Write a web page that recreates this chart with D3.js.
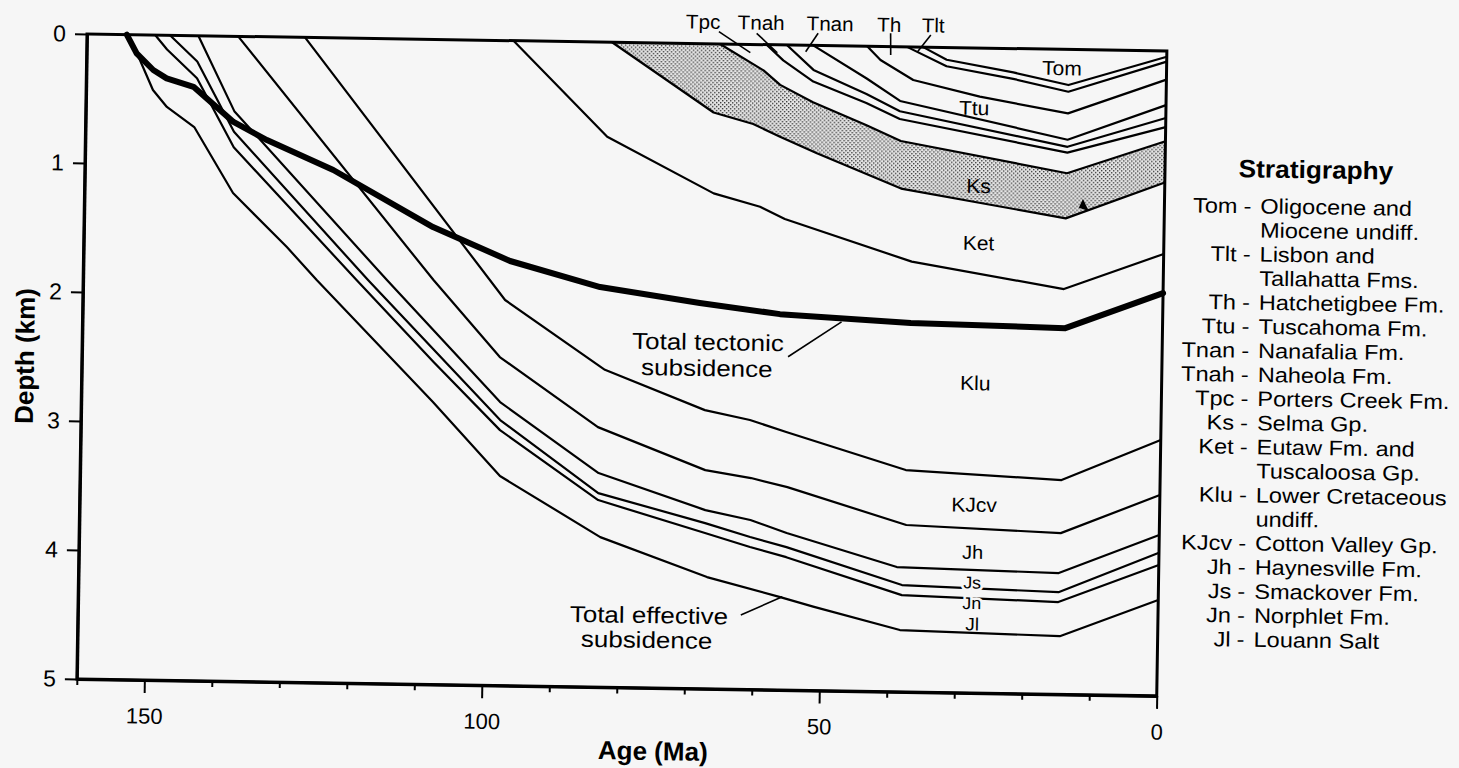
<!DOCTYPE html>
<html>
<head>
<meta charset="utf-8">
<script src="https://cdn.jsdelivr.net/npm/d3@7"></script>
<style>
  html, body { margin: 0; padding: 0; background: #f6f6f6; }
  svg { display: block; }
  text { font-family: "Liberation Sans", Arial, Helvetica, sans-serif; fill: #000; }
</style>
</head>
<body>
<svg id="chart" width="1459" height="768"></svg>
<script>
// Burial history, horizon by horizon: [age (Ma), depth (km)]
const jlBase   = [[154.3,0],[152.1,0.195],[150.1,0.426],[148.0,0.556],[143.9,0.708],[138.0,1.215],[129.9,1.627],[125.4,1.879],[107.9,2.811],[97.8,3.376],[82.8,3.837],[66.9,4.134],[56.0,4.28],[51.1,4.35],[38.2,4.521],[14.5,4.549],[0,4.257]];
const jlTop    = [[149.9,0],[148.1,0.11],[143.6,0.33],[138.0,0.86],[119.5,1.874],[107.9,2.50],[97.9,3.02],[83.2,3.55],[67.3,3.793],[60.6,3.896],[55.2,3.97],[38.0,4.25],[14.8,4.285],[0,3.985]];
const jnTop    = [[147.7,0],[143.6,0.20],[138.0,0.74],[117.8,1.873],[97.9,2.942],[83.2,3.496],[67.3,3.716],[60.6,3.818],[55.2,3.892],[38.0,4.172],[14.8,4.208],[0,3.89]];
const jsTop    = [[143.5,0],[138.0,0.58],[115.0,1.871],[97.95,2.803],[83.2,3.341],[67.3,3.615],[60.6,3.686],[55.2,3.783],[38.8,4.033],[14.8,4.06],[0,3.753]];
const jhTop    = [[137.6,0],[108.1,1.865],[98.1,2.454],[83.4,2.985],[67.4,3.305],[60.6,3.361],[55.2,3.427],[37.5,3.706],[14.6,3.75],[0,3.443]];
const kjcvTop  = [[127.7,0],[97.45,2.011],[82.5,2.54],[67.6,2.84],[60.9,2.911],[55.5,3.0],[37.7,3.28],[14.6,3.339],[0,3.016]];
const kluTop   = [[96.8,0],[82.7,0.733],[66.8,1.159],[59.9,1.257],[56.2,1.349],[37.3,1.664],[14.7,1.858],[0,1.574]];
const ketTop   = [[82.2,0],[67.0,0.532],[61.1,0.617],[57.1,0.712],[51.6,0.836],[39.05,1.099],[14.6,1.31],[0,1.02]];
const ksTop    = [[66.2,0],[59.7,0.20],[57.2,0.31],[52.3,0.44],[44.4,0.61],[39.2,0.73],[14.5,0.96],[0,0.70]];
const tpcTop   = [[59.3,0],[56.8,0.12],[52.3,0.28],[44.4,0.44],[39.4,0.56],[14.5,0.80],[0,0.59]];
const tnahTop  = [[56.3,0],[52.3,0.19],[44.4,0.37],[39.4,0.50],[14.5,0.755],[0,0.52]];
const tnanTop  = [[52.4,0],[44.4,0.25],[39.4,0.42],[14.5,0.70],[0,0.42]];
const ttuTop   = [[44.4,0],[42.4,0.105],[37.5,0.256],[27.6,0.377],[14.5,0.496],[0,0.222]];
const thTop    = [[38.5,0],[32.6,0.145],[22.7,0.235],[14.5,0.328],[0,0.083]];
const tltTop   = [[36.1,0],[32.6,0.095],[22.7,0.185],[14.5,0.276],[0,0.045]];

// Total tectonic subsidence curve
const tectonic = [[154.1,0],[152.6,0.144],[150.1,0.271],[148.1,0.334],[144.1,0.396],[138.1,0.664],[133.1,0.80],[123.2,1.024],[108.3,1.454],[96.8,1.708],[83.4,1.899],[68.6,2.01],[56.7,2.087],[37.3,2.14],[14.4,2.161],[0,1.877]];

// Axis ticks
const ageTicks = [160,150,140,130,120,110,100,90,80,70,60,50,40,30,20,10,0];
const ageLabels = [150,100,50,0];
const depthTicks = [0,1,2,3,4,5];

// Unit names inside the section
const unitNames = ["Tom","Ttu","Ks","Ket","Klu","KJcv","Jh","Js","Jn","Jl"];
const topNames = ["Tpc","Tnah","Tnan","Th","Tlt"];

// Stratigraphy key
const keyCodes = ["Tom","","Tlt","","Th","Ttu","Tnan","Tnah","Tpc","Ks","Ket","","Klu","","KJcv","Jh","Js","Jn","Jl"];
const keyNames = ["Oligocene and","Miocene undiff.","Lisbon and","Tallahatta Fms.","Hatchetigbee Fm.","Tuscahoma Fm.","Nanafalia Fm.","Naheola Fm.","Porters Creek Fm.","Selma Gp.","Eutaw Fm. and","Tuscaloosa Gp.","Lower Cretaceous","undiff.","Cotton Valley Gp.","Haynesville Fm.","Smackover Fm.","Norphlet Fm.","Louann Salt"];

// ---- layout ----
const W = 1080, H = 645;
const svg = d3.select("#chart");
svg.append("rect").attr("width", 1459).attr("height", 768).attr("fill", "#f6f6f6");

const defs = svg.append("defs");
const pat = defs.append("pattern").attr("id", "stipple")
  .attr("width", 4).attr("height", 4).attr("patternUnits", "userSpaceOnUse");
pat.append("rect").attr("width", 4).attr("height", 4).attr("fill", "#e6e6e6");
pat.append("rect").attr("x", 0).attr("y", 0).attr("width", 1.4).attr("height", 1.4).attr("fill", "#3a3a3a");
pat.append("rect").attr("x", 2).attr("y", 2).attr("width", 1.4).attr("height", 1.4).attr("fill", "#3a3a3a");

// whole figure sits slightly tilted
const g = svg.append("g").attr("transform", "translate(87,34) rotate(0.9)");

const x = d3.scaleLinear().domain([160, 0]).range([0, W]);
const y = d3.scaleLinear().domain([0, 5]).range([0, H]);
const line = d3.line().x(d => x(d[0])).y(d => y(d[1]));

// text placed at (px, py), optionally widened horizontally
function label(px, py, str, size, anchor, sx) {
  return g.append("text")
    .attr("transform", `translate(${px},${py}) scale(${sx || 1},1)`)
    .attr("text-anchor", anchor || "middle")
    .attr("font-size", size)
    .text(str);
}

// Selma Gp. stippled band
g.append("path")
  .attr("d", line(ketTop.concat(ksTop.slice().reverse())) + "Z")
  .attr("fill", "url(#stipple)").attr("stroke", "none");

// horizon lines
const horizons = [jlBase, jlTop, jnTop, jsTop, jhTop, kjcvTop, kluTop, ketTop, ksTop, tpcTop, tnahTop, tnanTop, ttuTop, thTop, tltTop];
g.selectAll("path.horizon").data(horizons).enter().append("path")
  .attr("class", "horizon")
  .attr("d", line)
  .attr("fill", "none").attr("stroke", "#000").attr("stroke-width", 2.2)
  .attr("stroke-linejoin", "round");

// tectonic subsidence
g.append("path").attr("d", line(tectonic))
  .attr("fill", "none").attr("stroke", "#000").attr("stroke-width", 6)
  .attr("stroke-linejoin", "round").attr("stroke-linecap", "round");

// frame
g.append("rect").attr("x", 0).attr("y", 0).attr("width", W).attr("height", H)
  .attr("fill", "none").attr("stroke", "#000").attr("stroke-width", 3);

// y axis
const yAxis = d3.axisLeft(y).tickValues(depthTicks).tickSize(12).tickSizeOuter(0).tickPadding(9).tickFormat(d3.format("d"));
const ya = g.append("g").call(yAxis);
ya.select(".domain").attr("stroke-width", 3);
ya.selectAll(".tick line").attr("stroke-width", 2);
ya.selectAll(".tick text").attr("font-family", "'Liberation Sans Narrow', 'Liberation Sans', sans-serif").attr("font-size", 23);

// x axis
const xAxis = d3.axisBottom(x).tickValues(ageTicks).tickSize(6).tickSizeOuter(0)
  .tickFormat(d => ageLabels.includes(d) ? d : "");
const xa = g.append("g").attr("transform", `translate(0,${H})`).call(xAxis);
xa.select(".domain").attr("stroke-width", 3);
xa.selectAll(".tick line").attr("stroke-width", 2)
  .attr("y2", d => ageLabels.includes(d) ? 13 : 6);
xa.selectAll(".tick text").attr("y", 28).attr("dy", "0.71em")
  .attr("font-family", "'Liberation Sans Narrow', 'Liberation Sans', sans-serif").attr("font-size", 22);

// axis titles
g.append("text").attr("x", 577).attr("y", H + 72).attr("text-anchor", "middle")
  .attr("font-size", 26).attr("font-weight", "bold").text("Age (Ma)");
g.append("text").attr("transform", `translate(-48,${323})rotate(-90)`).attr("text-anchor", "middle")
  .attr("font-size", 26).attr("font-weight", "bold").text("Depth (km)");

// unit labels in the section
const unitAnchors = [[15.5,0.2],[28.4,0.52],[27.56,1.124],[27.45,1.566],[27.6,2.652],[27.5,3.595],[27.6,3.96],[27.6,4.19],[27.6,4.35],[27.5,4.515]];
const unitSizes = [20,20,20,20,20,20,19,17,17,18];
unitNames.forEach((t, i) => {
  const tx = label(x(unitAnchors[i][0]), y(unitAnchors[i][1]), t, unitSizes[i], "middle", 1.05);
  if (t === "Js" || t === "Jn") {
    tx.attr("stroke", "#f6f6f6").attr("stroke-width", 5).attr("paint-order", "stroke");
  }
});

// labels above the section, with leaders
const topAnchors = [68.76, 60.16, 49.94, 41.19, 34.67];
const topLeaders = [
  [[66.4,-0.095],[61.7,0.064]],
  [[60.8,-0.087],[57.7,0.061]],
  [[51.7,-0.095],[53.5,0.05]],
  [[40.96,-0.103],[40.9,0.065]],
  [[35.0,-0.095],[36.9,0.035]]
];
topNames.forEach((t, i) => {
  label(x(topAnchors[i]), y(-0.116), t, 20, "middle", 1.03);
  g.append("path").attr("d", line(topLeaders[i])).attr("stroke", "#000").attr("stroke-width", 1.6).attr("fill", "none");
});

// curve annotations
function twoLine(lines, pos) {
  lines.forEach((t, i) => label(x(pos[i][0]), y(pos[i][1]), t, 23, "middle", 1.13));
}
twoLine(["Total tectonic", "subsidence"], [[67.3,2.374],[67.4,2.576]]);
twoLine(["Total effective", "subsidence"], [[75.4,4.498],[75.7,4.69]]);
g.append("path").attr("d", line([[55.4,2.416],[47.56,2.139]])).attr("stroke", "#000").attr("stroke-width", 1.6).attr("fill", "none");
g.append("path").attr("d", line([[61.8,4.424],[55.7,4.277]])).attr("stroke", "#000").attr("stroke-width", 1.6).attr("fill", "none");

// small arrowhead inside the Selma band
{
  const tx = x(11.2), ty = y(1.25);
  g.append("path").attr("d", `M${tx},${ty} l-10,-3 l4,-9 Z`).attr("fill", "#000");
}

// Stratigraphy key
g.append("text").attr("transform", "translate(1231,125) scale(1.05,1)").attr("text-anchor", "middle")
  .attr("font-size", 25).attr("font-weight", "bold").text("Stratigraphy");
keyNames.forEach((t, i) => {
  const by = 161 + i * 24.08;
  if (keyCodes[i]) {
    label(1153, by, keyCodes[i], 21, "end", 1.12);
    label(1163, by, "-", 21, "middle", 1.12);
  }
  label(1176, by, t, 21, "start", 1.12);
});
</script>
</body>
</html>
